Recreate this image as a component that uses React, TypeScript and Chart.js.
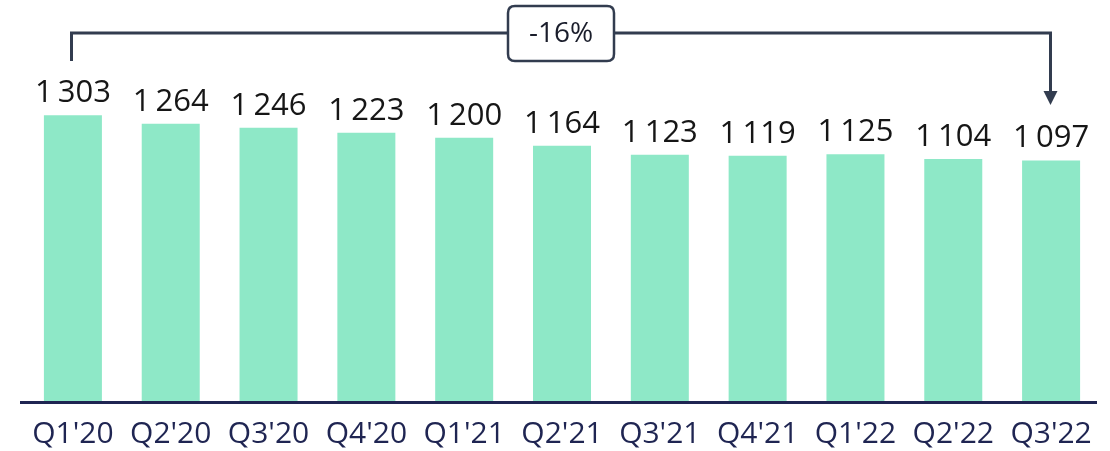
import React, { useEffect, useRef } from "react";
import { Chart, registerables } from "chart.js";

Chart.register(...registerables);

const categories = ["Q1'20", "Q2'20", "Q3'20", "Q4'20", "Q1'21", "Q2'21", "Q3'21", "Q4'21", "Q1'22", "Q2'22", "Q3'22"];
const values = [1303, 1264, 1246, 1223, 1200, 1164, 1123, 1119, 1125, 1104, 1097];
const changeLabel = "-16%";

const FONT = "'Open Sans', sans-serif";
const BAR_COLOR = "#8ee8c7";
const AXIS_COLOR = "#1f2552";
const LABEL_COLOR = "#161616";
const BRACKET_COLOR = "#323c4f";

function fmt(v: number): string {
  const th = Math.floor(v / 1000);
  const rest = String(v % 1000).padStart(3, "0");
  return th > 0 ? `${th}\u2009${rest}` : String(v);
}

const overlayPlugin = {
  id: "overlay",
  afterDatasetsDraw(chart: any) {
    const { ctx, chartArea } = chart;
    const meta = chart.getDatasetMeta(0);
    ctx.save();
    // axis line
    ctx.fillStyle = AXIS_COLOR;
    ctx.fillRect(chartArea.left - 4, chartArea.bottom - 1, chartArea.right - chartArea.left + 1, 3);

    // value labels
    ctx.fillStyle = LABEL_COLOR;
    ctx.font = `400 31px ${FONT}`;
    ctx.textAlign = "center";
    ctx.textBaseline = "alphabetic";
    meta.data.forEach((el: any, i: number) => {
      ctx.fillText(fmt(values[i]), el.x, el.y - 13);
    });

    // bracket
    const first = meta.data[0];
    const last = meta.data[meta.data.length - 1];
    const x1 = Math.round(first.x) - 1.5;
    const x2 = Math.round(last.x) - 0.5;
    const yTop = 33;
    ctx.strokeStyle = BRACKET_COLOR;
    ctx.lineWidth = 3;
    ctx.lineCap = "butt";
    ctx.beginPath();
    ctx.moveTo(x1, 61);
    ctx.lineTo(x1, yTop);
    ctx.lineTo(x2, yTop);
    ctx.lineTo(x2, 94);
    ctx.stroke();
    // arrow head
    ctx.fillStyle = BRACKET_COLOR;
    ctx.beginPath();
    ctx.moveTo(x2 - 7, 91);
    ctx.lineTo(x2 + 7, 91);
    ctx.lineTo(x2, 105);
    ctx.closePath();
    ctx.fill();

    // label box
    const cx = (x1 + x2) / 2;
    const bw = 106;
    const bh = 55;
    const bx = cx - bw / 2;
    const by = 6;
    const r = 7;
    ctx.beginPath();
    ctx.moveTo(bx + r, by);
    ctx.lineTo(bx + bw - r, by);
    ctx.quadraticCurveTo(bx + bw, by, bx + bw, by + r);
    ctx.lineTo(bx + bw, by + bh - r);
    ctx.quadraticCurveTo(bx + bw, by + bh, bx + bw - r, by + bh);
    ctx.lineTo(bx + r, by + bh);
    ctx.quadraticCurveTo(bx, by + bh, bx, by + bh - r);
    ctx.lineTo(bx, by + r);
    ctx.quadraticCurveTo(bx, by, bx + r, by);
    ctx.closePath();
    ctx.fillStyle = "#ffffff";
    ctx.fill();
    ctx.lineWidth = 2.5;
    ctx.strokeStyle = BRACKET_COLOR;
    ctx.stroke();

    ctx.fillStyle = "#1a1d2b";
    ctx.font = `400 28px ${FONT}`;
    ctx.textAlign = "center";
    ctx.textBaseline = "middle";
    ctx.fillText(changeLabel, cx, by + bh / 2 + 1);
    ctx.restore();
  },
};

export default function App() {
  const canvasRef = useRef<HTMLCanvasElement | null>(null);

  useEffect(() => {
    document.body.style.margin = "0";
    const canvas = canvasRef.current;
    if (!canvas) return;
    const chart = new Chart(canvas, {
      type: "bar",
      data: {
        labels: categories,
        datasets: [
          {
            data: values,
            backgroundColor: BAR_COLOR,
            borderWidth: 0,
            barPercentage: 0.593,
            categoryPercentage: 1,
          },
        ],
      },
      options: {
        animation: false,
        responsive: false,
        maintainAspectRatio: false,
        layout: { padding: { top: 0, left: 24, right: 10, bottom: -15 } },
        plugins: {
          legend: { display: false },
          tooltip: { enabled: false },
          title: { display: false },
        },
        scales: {
          x: {
            grid: { display: false, drawTicks: false },
            border: { display: false },
            ticks: {
              color: AXIS_COLOR,
              font: { family: FONT, size: 30, weight: 400 },
              padding: 14,
              maxRotation: 0,
              autoSkip: false,
            },
          },
          y: {
            display: false,
            min: 0,
            max: 1826,
          },
        },
      },
      plugins: [overlayPlugin],
    });
    return () => chart.destroy();
  }, []);

  return (
    <div style={{ position: "absolute", left: 0, top: 0, width: 1110, height: 451 }}>
      <canvas ref={canvasRef} width={1110} height={451} style={{ display: "block" }} />
    </div>
  );
}
